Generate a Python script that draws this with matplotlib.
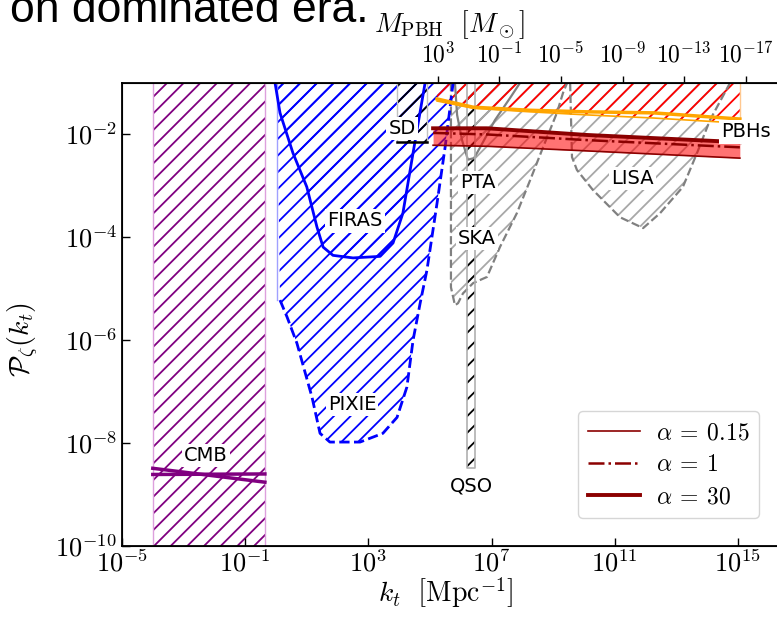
import matplotlib
matplotlib.use("Agg")
import matplotlib.pyplot as plt
import numpy as np

plt.rcParams['mathtext.fontset'] = 'cm'
plt.rcParams['hatch.linewidth'] = 1.3

# ---- data (log10 values) ----
cmb_logk = [-4.0, -0.36]
cmb_lineA_logP = [-8.49, -8.76]
cmb_lineB_logP = [-8.61, -8.60]

firas_logk = [-0.03, 0.13, 0.55, 1.0, 1.33, 1.53, 1.85, 2.5, 3.38, 3.80, 4.12, 4.45, 4.84]
firas_logP = [-1.0, -1.58, -2.36, -3.02, -3.80, -4.19, -4.35, -4.40, -4.37, -4.11, -3.53, -2.36, -1.0]

pixie_logk = [0.13, 0.36, 0.68, 1.17, 1.43, 1.75, 2.73, 3.47, 3.93, 4.25, 4.45, 4.68, 4.90, 5.23, 5.49, 5.75]
pixie_logP = [-5.22, -5.55, -6.06, -7.11, -7.81, -7.98, -7.98, -7.81, -7.50, -6.91, -6.00, -5.28, -4.64, -3.33, -2.25, -1.0]
pixie_edge_logk = 0.03

sd_logk = [3.93, 4.90]
sd_logP = -2.15

qso_logk = [6.20, 6.46]
qso_logP = -8.49

pta_logk = [5.81, 5.88, 6.04, 6.23, 6.43, 6.62, 7.11, 7.60, 7.92]
pta_logP = [-1.0, -1.62, -2.11, -2.49, -2.46, -2.26, -1.72, -1.29, -1.0]

ska_logk = [5.68, 5.68, 5.81, 5.91, 6.07, 6.40, 6.85, 7.27, 7.82, 8.25, 8.67, 9.12, 9.32, 9.45]
ska_logP = [-1.0, -4.97, -5.32, -5.28, -5.09, -4.89, -4.77, -4.19, -3.53, -2.89, -2.25, -1.58, -1.19, -1.0]

lisa_logk = [9.55, 9.61, 9.77, 10.29, 11.17, 11.92, 12.47, 13.21, 13.67, 14.09, 14.74]
lisa_logP = [-1.0, -2.44, -2.69, -3.08, -3.61, -3.82, -3.53, -3.02, -2.36, -1.72, -1.0]

pbh_logk = [5.23, 6.40, 8.25, 10.10, 12.24, 15.06]
pbh_upper_logP = [-1.31, -1.47, -1.53, -1.56, -1.58, -1.70]
pbh_lower_logP = [-1.35, -1.49, -1.56, -1.62, -1.68, -1.78]

band_logk = [5.10, 6.85, 10.10, 15.06]
alpha30_logP = [-1.88, -1.88, -2.01, -2.15]
alpha1_logP = [-1.97, -2.00, -2.11, -2.25]
alpha015_logP = [-2.21, -2.23, -2.32, -2.46]

xticks_exp = [-5, -1, 3, 7, 11, 15]
yticks_exp = [-10, -8, -6, -4, -2]
mpbh_exp = [3, -1, -5, -9, -13, -17]
mpbh_k_at_1e3 = 5.25  # log10 k where M_PBH = 10^3 Msun

def p(v):
    return np.power(10.0, np.array(v, dtype=float))

fig = plt.figure(figsize=(7.77, 6.20), dpi=100)
ax = fig.add_axes([0.157, 0.1194, 0.8721, 0.7467])

top = -0.9
bot = -11
H = '//'

# CMB
ax.fill([p(cmb_logk[0]), p(cmb_logk[1]), p(cmb_logk[1]), p(cmb_logk[0])],
        p([bot, bot, top, top]), facecolor='none', edgecolor='purple', hatch=H, linewidth=0, zorder=1)
for lk in cmb_logk:
    ax.axvline(p(lk), color='plum', lw=1, zorder=1)
ax.plot(p(cmb_logk), p(cmb_lineA_logP), color='purple', lw=2.5, zorder=3)
ax.plot(p(cmb_logk), p(cmb_lineB_logP), color='purple', lw=2.5, zorder=3)

# PIXIE and FIRAS
ax.fill(p([pixie_edge_logk] + pixie_logk + [pixie_edge_logk]), p([top] + pixie_logP[:-1] + [top, top]),
        facecolor='none', edgecolor='blue', hatch=H, linewidth=0, zorder=1)
ax.plot(p([pixie_edge_logk, pixie_edge_logk]), p([top, pixie_logP[0]]), color='#a0a0ff', lw=1, zorder=2)
ax.plot(p(pixie_logk), p(pixie_logP), color='blue', lw=2, ls='--', zorder=3)
ax.fill(p(firas_logk), p(firas_logP), facecolor='none', edgecolor='blue', hatch=H, linewidth=0, zorder=1)
ax.plot(p(firas_logk), p(firas_logP), color='blue', lw=2, zorder=3)

# SD
ax.fill(p([sd_logk[0], sd_logk[1], sd_logk[1], sd_logk[0]]), p([sd_logP, sd_logP, top, top]),
        facecolor='none', edgecolor='black', hatch=H, linewidth=0, zorder=1)
for lk in sd_logk:
    ax.plot(p([lk, lk]), p([sd_logP, top]), color='#c0c0c0', lw=1, zorder=2)
ax.plot(p(sd_logk), p([sd_logP, sd_logP]), color='black', lw=1.8, zorder=3)

# PTA, SKA, LISA
ax.fill(p(pta_logk), p(pta_logP), facecolor='none', edgecolor='gray', hatch=H, linewidth=0, zorder=1)
ax.plot(p(pta_logk), p(pta_logP), color='gray', lw=1.6, zorder=2)
ax.fill(p(ska_logk), p(ska_logP), facecolor='none', edgecolor='#a8a8a8', hatch=H, linewidth=0, zorder=1)
ax.plot(p(ska_logk), p(ska_logP), color='gray', lw=1.6, ls='--', zorder=2)
ax.fill(p(lisa_logk), p(lisa_logP), facecolor='none', edgecolor='#a8a8a8', hatch=H, linewidth=0, zorder=1)
ax.plot(p(lisa_logk), p(lisa_logP), color='gray', lw=1.6, ls='--', zorder=2)

# QSO
ax.fill(p([qso_logk[0], qso_logk[1], qso_logk[1], qso_logk[0]]), p([qso_logP, qso_logP, top, top]),
        facecolor='none', edgecolor='black', hatch=H, linewidth=0, zorder=1)
ax.plot(p([qso_logk[0], qso_logk[0], qso_logk[1], qso_logk[1]]), p([top, qso_logP, qso_logP, top]),
        color='#b0b0b0', lw=1.2, zorder=2)

# PBH constraint
ax.fill_between(p(pbh_logk), p(pbh_lower_logP), p(top), facecolor='none', edgecolor='red',
                hatch=H, linewidth=0, zorder=1)
ax.plot(p([pbh_logk[-1], pbh_logk[-1]]), p([pbh_lower_logP[-1], top]), color='#ffc890', lw=1, zorder=2)
ax.plot(p(pbh_logk), p(pbh_upper_logP), color='orange', lw=2.5, zorder=3)
ax.plot(p(pbh_logk), p(pbh_lower_logP), color='orange', lw=1.2, zorder=3)

# power spectrum band
ax.fill_between(p(band_logk), p(alpha015_logP), p(alpha30_logP), color='red', alpha=0.55, linewidth=0, zorder=3)
l1, = ax.plot(p(band_logk), p(alpha015_logP), color='darkred', lw=1.2, zorder=4, label=r'$\alpha\:=\:0.15$')
l2, = ax.plot(p(band_logk), p(alpha1_logP), color='darkred', lw=1.8, ls='-.', zorder=4, label=r'$\alpha\:=\:1$')
l3, = ax.plot(p(band_logk), p(alpha30_logP), color='darkred', lw=2.8, zorder=4, label=r'$\alpha\:=\:30$')

# labels
box = dict(facecolor='white', edgecolor='none', pad=1.5)
labels = [('SD', 4.09, -1.88), ('FIRAS', 2.56, -3.68), ('PIXIE', 2.47, -7.25), ('CMB', -2.27, -8.24),
          ('PTA', 6.56, -2.93), ('SKA', 6.53, -4.02), ('LISA', 11.56, -2.85), ('QSO', 6.36, -8.84),
          ('PBHs', 15.26, -1.95)]
for txt, lk, lp in labels:
    ax.text(p(lk), p(lp), txt, fontsize=14, ha='center', va='center', bbox=box, zorder=5)

ax.set_xscale('log')
ax.set_yscale('log')
ax.set_xlim(1e-5, 1e17)
ax.set_ylim(1e-10, 1e-1)
ax.set_xticks(p(xticks_exp))
ax.set_xticklabels([r'$10^{%d}$' % e for e in xticks_exp])
ax.set_yticks(p(yticks_exp))
ax.set_yticklabels([r'$10^{%d}$' % e for e in yticks_exp])
ax.minorticks_off()
ax.tick_params(direction='in', length=6, width=1, labelsize=19, top=False, right=False)
for s in ax.spines.values():
    s.set_linewidth(1.3)

ax.set_xlabel(r'$k_t\ \ \left[\mathrm{Mpc}^{-1}\right]$', fontsize=20)
ax.xaxis.set_label_coords(0.477, -0.063)
ax.set_ylabel(r'$\mathcal{P}_\zeta(k_t)$', fontsize=20)
ax.yaxis.set_label_coords(-0.121, 0.445)

ax2 = ax.twiny()
ax2.set_xscale('log')
ax2.set_xlim(ax.get_xlim())
mk = [mpbh_k_at_1e3 + (3 - m) / 2.0 for m in mpbh_exp]
ax2.set_xticks(p(mk))
ax2.set_xticklabels([r'$10^{%d}$' % m for m in mpbh_exp])
ax2.minorticks_off()
ax2.tick_params(direction='out', length=5, width=1, labelsize=17, pad=6)
ax2.set_xlabel(r'$M_{\rm PBH}\ \ [M_\odot]$', fontsize=20)
ax2.xaxis.set_label_coords(0.484, 1.110)

leg = ax.legend(handles=[l1, l2, l3], loc='lower right', fontsize=17,
                bbox_to_anchor=(771 / 777, 90 / 620), bbox_transform=fig.transFigure,
                handlelength=2.2, handletextpad=0.7, borderpad=0.4, labelspacing=0.35)

fig.text(369 / 777, 1 - 22 / 620, 'on dominated era.', fontsize=32, family='Liberation Sans',
         ha='right', va='baseline')

fig.savefig('out.png', dpi=100)
